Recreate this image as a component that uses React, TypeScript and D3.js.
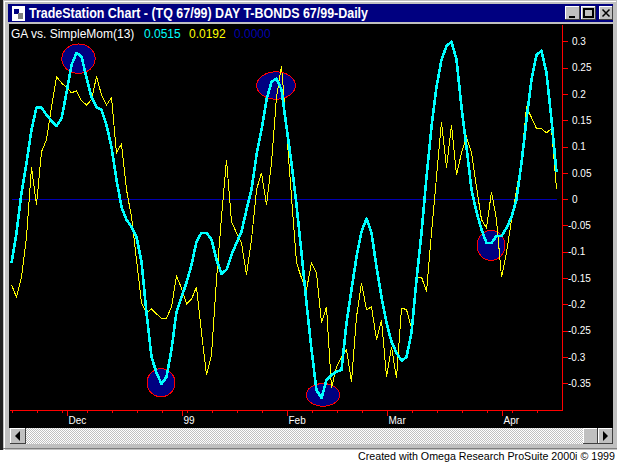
import React, { useEffect, useRef } from 'react';
import * as d3 from 'd3';

// daily readings, Nov 98 - Apr 99
const gaValues = [
  -0.121, -0.064, 0.012, 0.069, 0.132, 0.174, 0.174, 0.16, 0.149, 0.139,
  0.153, 0.202, 0.255, 0.278, 0.271, 0.231, 0.194, 0.175, 0.17, 0.141,
  0.099, 0.037, -0.015, -0.039, -0.053, -0.072, -0.119, -0.216, -0.3, -0.33,
  -0.351, -0.338, -0.286, -0.214, -0.186, -0.159, -0.125, -0.081, -0.064, -0.064,
  -0.077, -0.115, -0.142, -0.134, -0.106, -0.083, -0.062, -0.02, 0.018, 0.084,
  0.132, 0.189, 0.223, 0.229, 0.208, 0.137, 0.069, -0.011, -0.102, -0.197,
  -0.286, -0.363, -0.378, -0.344, -0.334, -0.328, -0.325, -0.235, -0.172, -0.11,
  -0.062, -0.037, -0.064, -0.129, -0.186, -0.235, -0.271, -0.292, -0.307, -0.3,
  -0.254, -0.153, -0.064, 0.042, 0.137, 0.213, 0.265, 0.291, 0.299, 0.265,
  0.175, 0.099, 0.018, -0.024, -0.058, -0.083, -0.083, -0.07, -0.07, -0.055,
  -0.034, -0.001, 0.069, 0.151, 0.227, 0.274, 0.282, 0.24, 0.151, 0.0515
];

const momValues = [
  -0.163, -0.186, -0.148, -0.072, 0.061, -0.011, 0.09, 0.113, 0.175, 0.233,
  0.221, 0.212, 0.202, 0.206, 0.187, 0.179, 0.189, 0.233, 0.198, 0.179,
  0.193, 0.088, 0.105, 0.018, -0.034, -0.115, -0.197, -0.216, -0.209, -0.218,
  -0.227, -0.226, -0.205, -0.146, -0.169, -0.199, -0.19, -0.167, -0.254, -0.334,
  -0.296, -0.153, -0.034, 0.075, -0.043, -0.064, -0.083, -0.144, -0.077, 0.018,
  0.05, -0.011, 0.069, 0.194, 0.253, 0.132, 0.004, -0.121, -0.15, -0.172,
  -0.121, -0.14, -0.235, -0.205, -0.359, -0.319, -0.3, -0.286, -0.347, -0.224,
  -0.159, -0.21, -0.205, -0.267, -0.229, -0.338, -0.281, -0.34, -0.207, -0.21,
  -0.245, -0.148, -0.148, -0.176, -0.064, 0.042, 0.147, 0.06, 0.141, 0.046,
  0.088, 0.118, 0.088, 0.023, -0.039, -0.055, 0.014, -0.039, -0.148, -0.102,
  -0.039, 0.018, 0.075, 0.175, 0.155, 0.134, 0.134, 0.126, 0.134, 0.0192
];

const yTicks = [0.3, 0.25, 0.2, 0.15, 0.1, 0.05, 0, -0.05, -0.1, -0.15, -0.2, -0.25, -0.3, -0.35];
const monthLabels = ['Dec', '99', 'Feb', 'Mar', 'Apr'];
const monthDays = [11, 34, 55, 75, 98];
const weekDays = d3.range(0, 110, 5);

// circled turning points
const ringDays = [13.4, 52.9, 29.9, 62.3, 95.9];
const ringValues = [0.267, 0.216, -0.349, -0.372, -0.088];
const ringRx = [16.7, 19.3, 14, 16.7, 14];
const ringRy = [14.7, 13.7, 14, 11.3, 15];

const TITLE = 'TradeStation Chart - (TQ 67/99) DAY T-BONDS 67/99-Daily';
const FOOTER = 'Created with Omega Research ProSuite 2000i \u00a9 1999';
const UI_FONT = '"Liberation Sans", Arial, sans-serif';
const GRAY = '#c0c0c0';

const x = d3.scaleLinear().domain([0, 110]).range([11.5, 561.5]);
const y = d3.scaleLinear().domain([0.3, -0.35]).range([41.3, 383.3]);

const line = d3.line<number>()
  .x((_, i) => x(i))
  .y(d => y(d));

function Bevel({ bx, by, w, h }: { bx: number; by: number; w: number; h: number }) {
  return (
    <g shapeRendering="crispEdges">
      <rect x={bx} y={by} width={w} height={h} fill={GRAY} />
      <path d={`M${bx + 0.5},${by + h}V${by + 0.5}H${bx + w}`} fill="none" stroke="#fff" />
      <path d={`M${bx + w - 0.5},${by}V${by + h - 0.5}H${bx}`} fill="none" stroke="#404040" />
    </g>
  );
}

export default function App() {
  const yAxisRef = useRef<SVGGElement>(null);
  const xAxisRef = useRef<SVGGElement>(null);
  const monthAxisRef = useRef<SVGGElement>(null);

  useEffect(() => {
    if (!yAxisRef.current || !xAxisRef.current || !monthAxisRef.current) return;

    const yAxis = d3.select(yAxisRef.current);
    yAxis.call(
      d3.axisRight(y)
        .tickValues(yTicks)
        .tickSize(5)
        .tickPadding(4)
        .tickFormat(d => String(d))
    );
    yAxis.select('.domain').remove();
    yAxis.selectAll('.tick line').attr('stroke', '#ff0000');
    yAxis.selectAll<SVGTextElement, number>('.tick text')
      .attr('fill', '#fff')
      .attr('x', d => (d < 0 ? 5.5 : 9.5));

    const xAxis = d3.select(xAxisRef.current);
    xAxis.call(
      d3.axisBottom(x)
        .tickValues(weekDays)
        .tickSize(3)
        .tickFormat(() => '')
    );
    xAxis.select('.domain').remove();
    xAxis.selectAll('.tick line').attr('stroke', '#ff0000');

    const monthAxis = d3.select(monthAxisRef.current);
    monthAxis.call(
      d3.axisBottom(x)
        .tickValues(monthDays)
        .tickSize(6)
        .tickPadding(1)
        .tickFormat((_, i) => monthLabels[i])
    );
    monthAxis.select('.domain').remove();
    monthAxis.selectAll('.tick line').attr('stroke', '#ff0000');
    monthAxis.selectAll('.tick text')
      .attr('fill', '#fff')
      .attr('text-anchor', 'start')
      .attr('x', 1.5);
  }, []);

  return (
    <svg
      width={617}
      height={463}
      style={{ position: 'absolute', left: 0, top: 0, background: '#fff' }}
    >
      <defs>
        <pattern id="dither" width={2} height={2} patternUnits="userSpaceOnUse">
          <rect width={2} height={2} fill="#fff" />
          <rect width={1} height={1} fill={GRAY} />
          <rect x={1} y={1} width={1} height={1} fill={GRAY} />
        </pattern>
      </defs>

      {/* window frame */}
      <g shapeRendering="crispEdges">
        <rect x={0} y={0} width={3} height={450} fill="#202020" />
        <rect x={3} y={0} width={614} height={450} fill={GRAY} />
        <rect x={4} y={1} width={612} height={1} fill="#fff" />
        <rect x={4} y={1} width={1} height={449} fill="#fff" />
        <rect x={8} y={4} width={605} height={18} fill="#000080" />
        <rect x={9} y={24} width={604} height={404} fill="#000" />
        <rect x={26} y={428} width={557} height={16} fill="url(#dither)" />
        <rect x={3} y={448} width={614} height={1} fill="#808080" />
      </g>

      <g shapeRendering="crispEdges">
        <rect x={12} y={6} width={13} height={15} fill="#fff" />
        <rect x={14} y={9} width={5} height={5} fill="#000080" />
        <rect x={18} y={13} width={5} height={6} fill="#808080" />
      </g>
      <text
        x={29}
        y={18}
        fontFamily={UI_FONT}
        fontWeight="bold"
        fontSize={14}
        fill="#fff"
        textLength={339}
        lengthAdjust="spacingAndGlyphs"
      >
        {TITLE}
      </text>

      <Bevel bx={565} by={6} w={15} h={14} />
      <Bevel bx={581} by={6} w={15} h={14} />
      <Bevel bx={599} by={6} w={14} h={14} />
      <g fill="none" stroke="#000" strokeWidth={1.5} shapeRendering="crispEdges">
        <path d="M569,17H575" strokeWidth={2} />
        <rect x={584} y={9} width={9} height={8} />
        <path d="M602.5,9.5L609.5,16.5M609.5,9.5L602.5,16.5" shapeRendering="auto" />
      </g>

      <Bevel bx={10} by={428} w={16} h={16} />
      <Bevel bx={583} by={428} w={15} h={16} />
      <Bevel bx={598} by={428} w={15} h={16} />
      <path d="M15,436L20,431V441Z" fill="#000" />
      <path d="M608,436L603,431V441Z" fill="#000" />

      {/* legend */}
      <g fontFamily={UI_FONT} fontSize={12}>
        <text x={11} y={38} fill="#fff">GA vs. SimpleMom(13)</text>
        <text x={144} y={38} fill="#00ffff">{gaValues[gaValues.length - 1].toFixed(4)}</text>
        <text x={189} y={38} fill="#ffff00">{momValues[momValues.length - 1].toFixed(4)}</text>
        <text x={234} y={38} fill="#0000b0">{(0).toFixed(4)}</text>
      </g>

      {/* circled turning points */}
      {ringDays.map((d, i) => (
        <ellipse
          key={i}
          cx={x(d)}
          cy={y(ringValues[i])}
          rx={ringRx[i]}
          ry={ringRy[i]}
          fill="#000080"
          stroke="#ff0000"
          strokeWidth={1}
          shapeRendering="crispEdges"
        />
      ))}

      {/* zero line */}
      <line
        x1={x(0)}
        x2={x(gaValues.length - 1)}
        y1={y(0)}
        y2={y(0)}
        stroke="#0000b0"
        shapeRendering="crispEdges"
      />

      <path d={line(momValues) ?? ''} fill="none" stroke="#ffff00" strokeWidth={1} shapeRendering="crispEdges" />
      <path
        d={line(gaValues) ?? ''}
        fill="none"
        stroke="#00ffff"
        strokeWidth={2.6}
        strokeLinejoin="round"
        shapeRendering="crispEdges"
      />

      {/* axes */}
      <g shapeRendering="crispEdges">
        <line x1={x(110) + 1} x2={x(110) + 1} y1={25} y2={y(-0.35) + 27} stroke="#ff0000" />
        <line x1={10} x2={x(110) + 1} y1={y(-0.35) + 27} y2={y(-0.35) + 27} stroke="#ff0000" />
      </g>
      <g
        ref={yAxisRef}
        transform={`translate(${x(110) + 1},0)`}
        fontFamily={UI_FONT}
        fontSize={12}
        shapeRendering="crispEdges"
      />
      <g ref={xAxisRef} transform={`translate(0,${y(-0.35) + 27})`} shapeRendering="crispEdges" />
      <g
        ref={monthAxisRef}
        transform={`translate(0,${y(-0.35) + 27})`}
        fontFamily={UI_FONT}
        fontSize={13}
        shapeRendering="crispEdges"
      />

      <text
        x={358}
        y={460}
        fontFamily={UI_FONT}
        fontSize={11.5}
        fill="#000"
        textLength={257}
        lengthAdjust="spacingAndGlyphs"
      >
        {FOOTER}
      </text>
    </svg>
  );
}
